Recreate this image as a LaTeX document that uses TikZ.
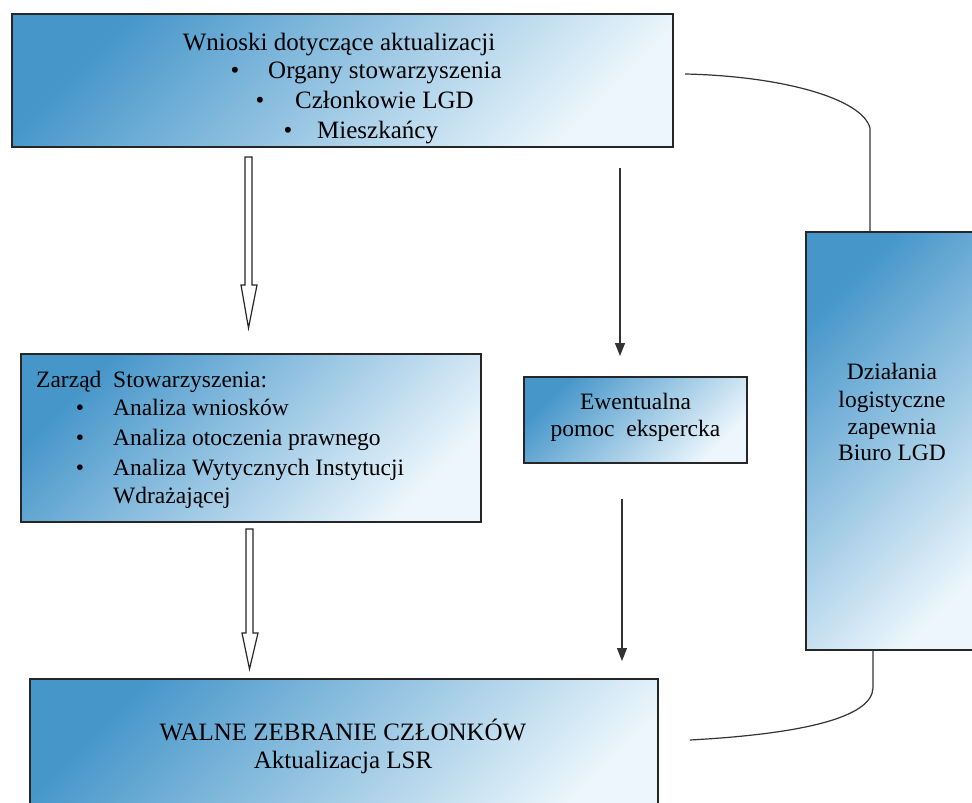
\documentclass[tikz,border=0pt]{standalone}
\usepackage{fontspec}
\setmainfont{Liberation Serif}
\usetikzlibrary{arrows.meta}
\definecolor{bdark}{RGB}{70,150,202}
\definecolor{blight}{RGB}{236,246,252}
\begin{document}
\begin{tikzpicture}[x=1pt,y=-1pt,
  box/.style={draw=black!85, line width=1.3pt, rectangle, top color=bdark, bottom color=blight, shading angle=45, inner sep=0pt},
  txt/.style={font=\fontsize{23.5}{27}\selectfont, inner sep=0pt, text=black},
  bigtxt/.style={font=\fontsize{25}{29}\selectfont, inner sep=0pt, text=black},
  conn/.style={line width=1.2pt, draw=black!80},
  blackarrow/.style={conn, -{Triangle[length=13pt,width=10pt]}},
  hollow/.style={line width=1.2pt, draw=black!85, fill=white, line join=miter}]
\path[use as bounding box, fill=white] (0,0) rectangle (972,803);

% boxes
\node[box, minimum width=661pt, minimum height=133pt] (wn) at (342.5,80.5) {};
\node[box, minimum width=184pt, minimum height=418pt] (dz) at (898,441) {};
\node[box, minimum width=460pt, minimum height=168pt] (zr) at (251,438) {};
\node[box, minimum width=223pt, minimum height=86pt] (ew) at (635.5,420) {};
\node[box, minimum width=628pt, minimum height=151pt] (wz) at (344,754.5) {};

% texts: top box
\node[bigtxt, anchor=base] (wn1) at (339,50) {Wnioski dotyczące aktualizacji};
\node[bigtxt, anchor=base] (wnb1) at (235,78) {•};
\node[bigtxt, anchor=base west] (wn2) at (268,78) {Organy stowarzyszenia};
\node[bigtxt, anchor=base] (wnb2) at (260,108) {•};
\node[bigtxt, anchor=base west] (wn3) at (295,108) {Członkowie LGD};
\node[bigtxt, anchor=base] (wnb3) at (288,138) {•};
\node[bigtxt, anchor=base west] (wn4) at (317,138) {Mieszkańcy};

% left box
\node[txt, anchor=base west] (zr1) at (36,387) {Zarząd\ \ Stowarzyszenia:};
\node[txt, anchor=base] (zrb1) at (80,415) {•};
\node[txt, anchor=base west] (zr2) at (113,415) {Analiza wniosków};
\node[txt, anchor=base] (zrb2) at (80,445) {•};
\node[txt, anchor=base west] (zr3) at (113,445) {Analiza otoczenia prawnego};
\node[txt, anchor=base] (zrb3) at (80,475) {•};
\node[txt, anchor=base west] (zr4) at (113,475) {Analiza Wytycznych Instytucji};
\node[txt, anchor=base west] (zr5) at (113,503) {Wdrażającej};

% expert box
\node[txt, anchor=base] (ew1) at (635.5,409) {Ewentualna};
\node[txt, anchor=base] (ew2) at (635.5,436) {pomoc\ \ ekspercka};

% right box
\node[txt, anchor=base] (dz1) at (892,379) {Działania};
\node[txt, anchor=base] (dz2) at (892,407) {logistyczne};
\node[txt, anchor=base] (dz3) at (892,434) {zapewnia};
\node[txt, anchor=base] (dz4) at (892,460) {Biuro LGD};

% bottom box
\node[bigtxt, anchor=base] (wz1) at (343,740) {WALNE ZEBRANIE CZŁONKÓW};
\node[bigtxt, anchor=base] (wz2) at (343,768) {Aktualizacja LSR};

% connector end points
\coordinate (h1) at (248.5,157);
\coordinate (h2) at (249.5,529);
\coordinate (a1s) at (620,168);
\coordinate (a1e) at (620,356);
\coordinate (a2s) at (622,499);
\coordinate (a2e) at (622,661);
\coordinate (c1) at (685,74);
\coordinate (c2) at (870,128);
\coordinate (c3) at (873,688);
\coordinate (c4) at (690,740);

% hollow arrows
\draw[hollow] (h1) ++(-3.5,0) -- ++(7,0) -- ++(0,128) -- ++(5,0) -- ++(-8.5,43) -- ++(-7.5,-43) -- ++(4,0) -- cycle;
\draw[hollow] (h2) ++(-3.5,0) -- ++(7,0) -- ++(0,104) -- ++(5,0) -- ++(-8.5,36) -- ++(-7.5,-36) -- ++(4,0) -- cycle;

% black arrows
\draw[blackarrow] (a1s) -- (a1e);
\draw[blackarrow] (a2s) -- (a2e);

% curved connectors to the office box
\draw[conn] (c1) .. controls (780,76) and (862,98) .. (c2) -- (c2 |- dz.north);
\draw[conn] (c3 |- dz.south) -- (c3) .. controls (872,718) and (800,734) .. (c4);
\end{tikzpicture}
\end{document}
